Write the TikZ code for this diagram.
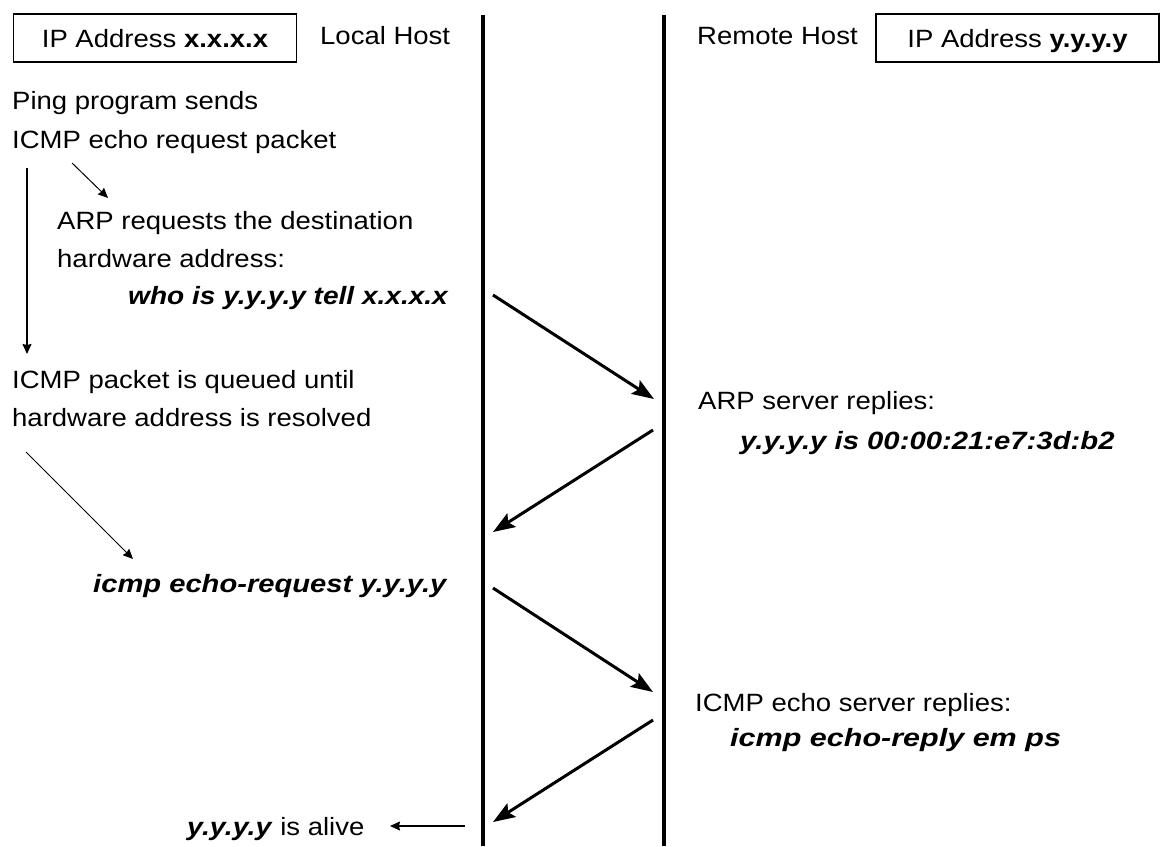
\documentclass[tikz,border=0pt]{standalone}
\usepackage{fontspec}
\usepackage{graphicx}
\setmainfont{Liberation Sans}[FakeStretch=1.1]
\usetikzlibrary{arrows.meta}
\newcommand\bistretch[2]{\scalebox{#1}[1]{\textbf{\textit{#2}}}}
\begin{document}
\begin{tikzpicture}[x=1pt,y=-1pt,
  txt/.style={font=\fontsize{25pt}{30pt}\selectfont, inner sep=0pt, text height=18pt, text depth=0pt, anchor=west},
  ipbox/.style={txt, anchor=center, draw, line width=1.5pt, minimum width=283pt, minimum height=48pt},
  lifeline/.style={line width=4.5pt},
  msg/.style={line width=3pt, -{Stealth[length=22pt,width=16pt,inset=4pt]}},
  smallarrow/.style={line width=1.3pt, -{Stealth[length=10pt,width=9pt,inset=1pt]}}]
\useasboundingbox (0,0) rectangle (1164,846);
% header
\node[ipbox] (ipx) at (155,38) {IP Address \textbf{x.x.x.x}};
\node[txt] (local) at (320,35) {Local Host};
\node[txt] (remote) at (697,35) {Remote Host};
\node[ipbox] (ipy) at (1017.5,38) {IP Address \textbf{y.y.y.y}};
% lifelines
\coordinate (l1t) at (483,15); \coordinate (l1b) at (483,846);
\coordinate (l2t) at (664,15); \coordinate (l2b) at (664,846);
\draw[lifeline] (l1t) -- (l1b);
\draw[lifeline] (l2t) -- (l2b);
% left texts
\node[txt] (ping1) at (12,100) {Ping program sends};
\node[txt] (ping2) at (12,139) {ICMP echo request packet};
\node[txt] (arp1) at (57,220) {ARP requests the destination};
\node[txt] (arp2) at (57,258) {hardware address:};
\node[txt] (who) at (128,295) {\bistretch{1.02}{who is y.y.y.y tell x.x.x.x}};
\node[txt] (queue1) at (12,379) {ICMP packet is queued until};
\node[txt] (queue2) at (12,417) {hardware address is resolved};
\node[txt] (req) at (93,583) {\bistretch{1.06}{icmp echo-request y.y.y.y}};
\node[txt] (alive) at (187,826) {\bistretch{1.04}{y.y.y.y} is alive};
% right texts
\node[txt] (arps1) at (698,400) {ARP server replies:};
\node[txt] (arps2) at (740,440) {\bistretch{1.065}{y.y.y.y is 00:00:21:e7:3d:b2}};
\node[txt] (echo1) at (695,702) {ICMP echo server replies:};
\node[txt] (echo2) at (730,737) {\bistretch{1.11}{icmp echo-reply em ps}};
% small arrows
\coordinate (va1) at (27,168); \coordinate (va2) at (27,354);
\draw[smallarrow] (va1) -- (va2);
\coordinate (sa1) at (72,163); \coordinate (sa2) at (108,198);
\draw[smallarrow, line width=1pt] (sa1) -- (sa2);
\coordinate (da1) at (26,452); \coordinate (da2) at (133,559);
\draw[smallarrow, line width=1pt] (da1) -- (da2);
\coordinate (al1) at (465,826); \coordinate (al2) at (390,826);
\draw[smallarrow] (al1) -- (al2);
% messages
\coordinate (m1a) at (493,295); \coordinate (m1b) at (654,399);
\coordinate (m2a) at (653,430); \coordinate (m2b) at (493,532);
\coordinate (m3a) at (493,588); \coordinate (m3b) at (653,692);
\coordinate (m4a) at (653,720); \coordinate (m4b) at (493,822);
\draw[msg] (m1a) -- (m1b);
\draw[msg] (m2a) -- (m2b);
\draw[msg] (m3a) -- (m3b);
\draw[msg] (m4a) -- (m4b);
\end{tikzpicture}
\end{document}
